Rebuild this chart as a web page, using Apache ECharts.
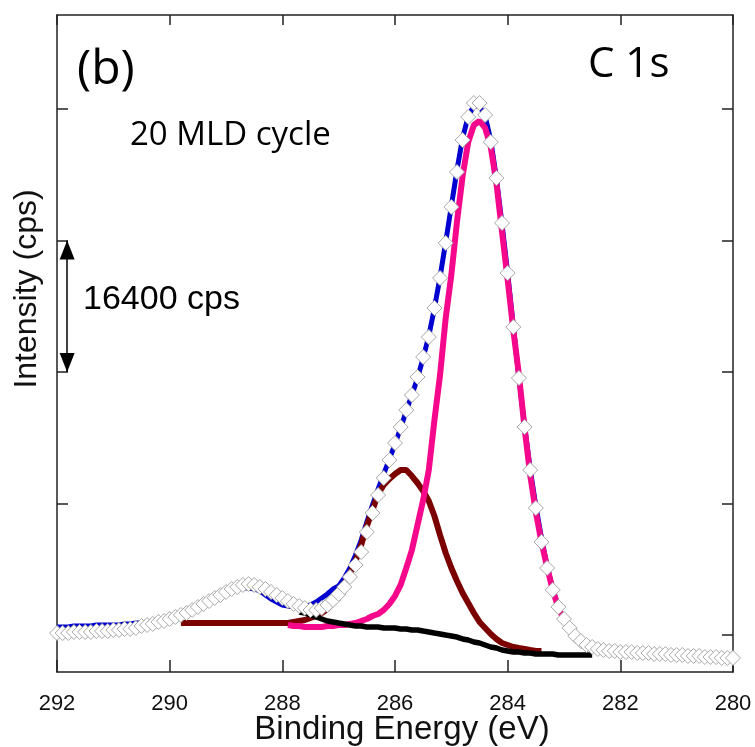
<!DOCTYPE html>
<html><head><meta charset="utf-8">
<script src="https://cdn.jsdelivr.net/npm/echarts@6/dist/echarts.min.js"></script>
<style>html,body{margin:0;padding:0;background:#fff}#c{width:755px;height:747px}</style>
</head><body><div id="c"></div>
<script>
// Binding energy grid (eV)
const energies = [
292.0,291.9,291.8,291.7,291.6,291.5,291.4,291.3,291.2,291.1,
291.0,290.9,290.8,290.7,290.6,290.5,290.4,290.3,290.2,290.1,
290.0,289.9,289.8,289.7,289.6,289.5,289.4,289.3,289.2,289.1,
289.0,288.9,288.8,288.7,288.6,288.5,288.4,288.3,288.2,288.1,
288.0,287.9,287.8,287.7,287.6,287.5,287.4,287.3,287.2,287.1,
287.0,286.9,286.8,286.7,286.6,286.5,286.4,286.3,286.2,286.1,
286.0,285.9,285.8,285.7,285.6,285.5,285.4,285.3,285.2,285.1,
285.0,284.9,284.8,284.7,284.6,284.5,284.4,284.3,284.2,284.1,
284.0,283.9,283.8,283.7,283.6,283.5,283.4,283.3,283.2,283.1,
283.0,282.9,282.8,282.7,282.6,282.5,282.4,282.3,282.2,282.1,
282.0,281.9,281.8,281.7,281.6,281.5,281.4,281.3,281.2,281.1,
281.0,280.9,280.8,280.7,280.6,280.5,280.4,280.3,280.2,280.1,
280.0];

// Measured intensity (cps)
const measured = [
4860,4860,4860,4990,4990,4990,4990,5110,5110,5110,
5240,5240,5360,5360,5490,5740,5860,5990,6240,6360,
6610,6860,7110,7360,7730,8110,8480,8850,9230,9600,
9980,10350,10600,10850,10970,10850,10600,10350,9980,9600,
9230,8850,8480,8230,7980,7730,7730,7980,8350,8980,
9730,10600,11850,13340,14960,17460,19830,22070,24190,26440,
28560,30550,32670,34540,36790,39280,41770,45390,49130,53500,
57990,62350,66340,69210,70950,70950,69460,66090,61600,55990,
49750,43020,36660,30550,25190,20450,16210,12970,10230,8110,
6610,5490,4490,3870,3370,3120,2870,2740,2620,2620,
2490,2490,2490,2370,2370,2370,2240,2240,2240,2120,
2120,2120,2000,2000,2000,1870,1870,1870,1750,1750,
1750];

// Fit envelope (cps)
const envelopeFit = [
5610,5610,5610,5740,5740,5740,5740,5860,5860,5860,
5860,5860,5990,5990,6110,6110,6240,6360,6480,6610,
6730,6980,7230,7480,7730,7980,8350,8730,9100,9480,
9850,10100,10350,10470,10470,10350,10100,9600,9100,8730,
8350,8230,8110,8110,8230,8350,8730,9230,9730,10350,
10720,11720,12970,14590,16460,18710,20820,22820,24690,26560,
28430,30430,32550,34540,36660,39160,41900,45390,49260,53620,
58110,62600,66590,69330,70580,70580,69330,66340,61600,55870,
49750,43150,36660,30680,25310,20700,16710,13220,10350,8110,
6480,5240,4360,3740,3240,2870,null,null,null,null,
null,null,null,null,null,null,null,null,null,null,
null,null,null,null,null,null,null,null,null,null,
null];

// C-C component (cps)
const peakCC = [
null,null,null,null,null,null,null,null,null,null,
null,null,null,null,null,null,null,null,null,null,
null,null,null,null,null,null,null,null,null,null,
null,null,null,null,null,null,null,null,null,null,
null,5860,5740,5740,5610,5610,5610,5610,5740,5740,
5860,5860,5990,6110,6360,6610,6980,7230,7730,8480,
9480,10850,12970,15210,18330,21450,25190,31420,37040,44140,
49510,56120,61850,66090,68210,68710,67840,65470,60980,54870,
48880,42650,37040,30430,24570,19950,16210,13090,10230,7980,
6480,5240,4240,3490,2990,null,null,null,null,null,
null,null,null,null,null,null,null,null,null,null,
null,null,null,null,null,null,null,null,null,null,
null];

// C-O component (cps)
const peakCO = [
null,null,null,null,null,null,null,null,null,null,
null,null,null,null,null,null,null,null,null,null,
null,null,6110,6110,6110,6110,6110,6110,6110,6110,
6110,6110,6110,6110,6110,6110,6110,6110,6110,6110,
6110,6110,6240,6360,6480,6730,6980,7360,7860,8600,
9850,10970,12220,13840,15840,18210,20200,22200,23320,24070,
24690,25190,25190,24440,23570,22570,21320,19450,17080,14840,
12970,11350,9850,8600,7360,6240,5490,4740,4120,3620,
3370,3120,2990,2870,2740,2620,2620,null,null,null,
null,null,null,null,null,null,null,null,null,null,
null,null,null,null,null,null,null,null,null,null,
null,null,null,null,null,null,null,null,null,null,
null];

// Background (cps)
const background = [
null,null,null,null,null,null,null,null,null,null,
null,null,null,null,null,null,null,null,null,null,
null,null,null,null,null,null,null,null,null,null,
null,null,null,null,null,null,null,null,null,null,
null,null,null,7480,7360,7110,6860,6610,6360,6240,
6110,5990,5860,5740,5740,5610,5610,5610,5490,5490,
5490,5360,5360,5240,5240,5110,4990,4860,4740,4610,
4490,4360,4120,3990,3740,3620,3370,3120,2990,2740,
2620,2490,2490,2370,2370,2240,2240,2240,2240,2120,
2120,2120,2120,2120,2120,2120,null,null,null,null,
null,null,null,null,null,null,null,null,null,null,
null,null,null,null,null,null,null,null,null,null,
null];

const yTickValues = [4600, 21000, 37400, 53800, 70200];
const scaleBarEnergy = 291.82;
const scaleBarFrom = 37400;
const scaleBarTo = 53800;
const scaleBarLabel = '16400 cps';

const pairs = arr => energies.map((e, i) => [e, arr[i]]).filter(p => p[1] !== null);

const AX = '#222';
const chart = echarts.init(document.getElementById('c'), null, {renderer: 'canvas'});
const xBase = {
  type: 'value', min: 280, max: 292, interval: 2, inverse: true,
  axisLine: {show: true, onZero: false, lineStyle: {color: AX, width: 1.5}},
  splitLine: {show: false}
};
const yBase = {
  type: 'value', min: 0, max: 81930,
  axisLine: {show: true, onZero: false, lineStyle: {color: AX, width: 1.5}},
  axisTick: {show: true, inside: true, length: 11, customValues: yTickValues, lineStyle: {color: AX, width: 1.5}},
  axisLabel: {show: false},
  splitLine: {show: false}
};
chart.setOption({
  animation: false,
  backgroundColor: '#fff',
  grid: {left: 57, right: 22, top: 15, bottom: 75, containLabel: false, outerBoundsMode: 'none'},
  xAxis: [
    Object.assign({}, xBase, {
      position: 'bottom',
      axisTick: {inside: true, length: 12, lineStyle: {color: AX, width: 1.5}},
      axisLabel: {fontSize: 22, color: '#111', fontFamily: 'Liberation Sans', margin: 21},
      name: 'Binding Energy (eV)', nameLocation: 'middle', nameGap: 41, nameMoveOverlap: false,
      nameTextStyle: {fontSize: 33, color: '#111', fontFamily: 'Liberation Sans', padding: [0, 0, 0, 14]}
    }),
    Object.assign({}, xBase, {
      position: 'top',
      axisTick: {inside: true, length: 10, lineStyle: {color: AX, width: 1.5}},
      axisLabel: {show: false}
    })
  ],
  yAxis: [
    Object.assign({}, yBase, {position: 'left'}),
    Object.assign({}, yBase, {position: 'right'})
  ],
  series: [
    {type: 'line', name: 'Envelope', data: pairs(envelopeFit), showSymbol: false, z: 2,
     lineStyle: {color: '#0000d0', width: 5}, itemStyle: {color: '#0000d0'},
     markLine: {
       silent: true, animation: false,
       symbol: ['triangle', 'triangle'], symbolSize: [15, 19],
       symbolOffset: [[0, '50%'], [0, '50%']],
       lineStyle: {color: '#000', width: 1.5, type: 'solid'},
       itemStyle: {color: '#000'},
       label: {show: false},
       data: [[{coord: [scaleBarEnergy, scaleBarFrom]}, {coord: [scaleBarEnergy, scaleBarTo]}]]
     }},
    {type: 'line', name: 'C-O', data: pairs(peakCO), showSymbol: false, z: 3,
     lineStyle: {color: '#7b0000', width: 6}, itemStyle: {color: '#7b0000'}},
    {type: 'line', name: 'C-C', data: pairs(peakCC), showSymbol: false, z: 4,
     lineStyle: {color: '#f5088c', width: 6}, itemStyle: {color: '#f5088c'}},
    {type: 'line', name: 'Background', data: pairs(background), showSymbol: false, z: 5,
     lineStyle: {color: '#000', width: 5.5}, itemStyle: {color: '#000'}},
    {type: 'scatter', name: 'Measured', data: pairs(measured), z: 6,
     symbol: 'diamond', symbolSize: [15, 15],
     itemStyle: {color: '#fff', borderColor: '#a8a8a8', borderWidth: 1, opacity: 1}}
  ],
  graphic: [
    {type: 'text', x: 77, y: 70, style: {text: '(b)', font: '48px "Open Sans"', fill: '#000', align: 'left', verticalAlign: 'middle'}},
    {type: 'text', x: 588, y: 65, style: {text: 'C 1s', font: '42px "Open Sans"', fill: '#000', align: 'left', verticalAlign: 'middle'}},
    {type: 'text', x: 130, y: 136, style: {text: '20 MLD cycle', font: '33px "Open Sans"', fill: '#000', align: 'left', verticalAlign: 'middle'}},
    {type: 'text', x: 83, y: 300, style: {text: scaleBarLabel, font: '34px "Liberation Sans"', fill: '#000', align: 'left', verticalAlign: 'middle'}},
    {type: 'text', x: 27, y: 289, rotation: Math.PI / 2, style: {text: 'Intensity (cps)', font: '32px "Liberation Sans"', fill: '#111', align: 'center', verticalAlign: 'middle'}}
  ]
});
</script></body></html>
